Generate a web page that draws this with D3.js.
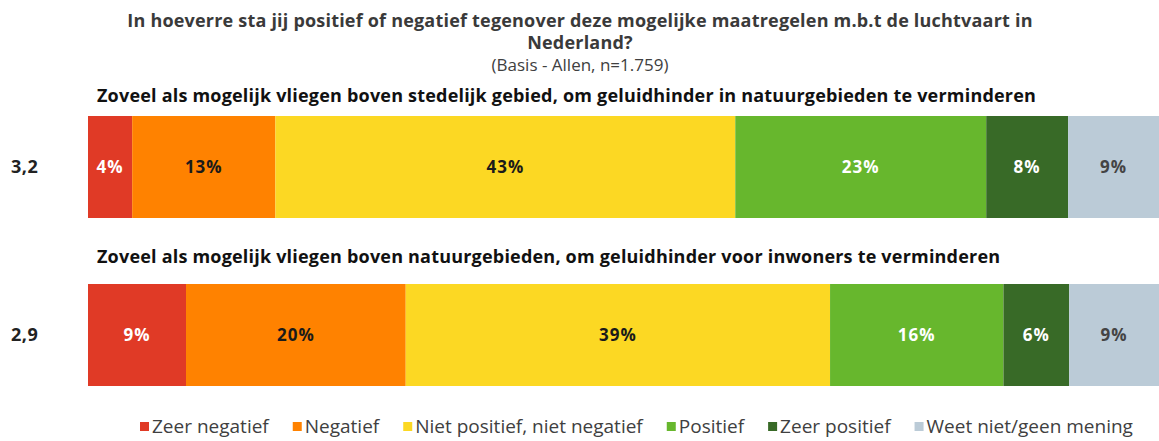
<!DOCTYPE html>
<html>
<head>
<meta charset="utf-8">
<script src="https://cdn.jsdelivr.net/npm/d3@7"></script>
<style>
  body { margin: 0; background: #fff; }
  svg text { font-family: "Open Sans", sans-serif; }
</style>
</head>
<body>
<div id="vis"></div>
<script>
// frame
const FRAME_WIDTH = 1159;
const FRAME_HEIGHT = 441;

// data
const categories = ["Zeer negatief", "Negatief", "Niet positief, niet negatief", "Positief", "Zeer positief", "Weet niet/geen mening"];
const colors = ["#e03a26", "#ff8200", "#fcd823", "#67b72d", "#386a27", "#bbcbd7"];
const labelColors = ["#fff", "#1a1a1a", "#1a1a1a", "#fff", "#fff", "#444"];
const questions = [
  "Zoveel als mogelijk vliegen boven stedelijk gebied, om geluidhinder in natuurgebieden te verminderen",
  "Zoveel als mogelijk vliegen boven natuurgebieden, om geluidhinder voor inwoners te verminderen"
];
const means = ["3,2", "2,9"];
const values1 = [4.1, 13.3, 42.7, 23.3, 7.6, 9.0];
const values2 = [9.1, 20.4, 39.4, 16.1, 6.1, 8.9];
const series = [values1, values2];

const titleLines = ["In hoeverre sta jij positief of negatief tegenover deze mogelijke maatregelen m.b.t de luchtvaart in", "Nederland?"];
const subtitle = "(Basis - Allen, n=1.759)";

const FRAME = d3.select("#vis").append("svg")
  .attr("width", FRAME_WIDTH)
  .attr("height", FRAME_HEIGHT);

// scales
const X_SCALE = d3.scaleLinear().domain([0, 100]).range([88, 1165]);
const ROW_Y = [116, 284];
const HEAD_Y = [102, 263];
const BAR_H = 102;

// title
FRAME.selectAll(".title")
  .data(titleLines)
  .enter()
  .append("text")
    .attr("x", 580)
    .attr("y", (d, i) => 27 + i * 22)
    .attr("text-anchor", "middle")
    .attr("font-size", "18px")
    .attr("font-weight", "bold")
    .attr("letter-spacing", "0.2px")
    .attr("fill", "#3a3a3a")
    .text(d => d);

FRAME.append("text")
  .attr("x", 580)
  .attr("y", 71)
  .attr("text-anchor", "middle")
  .attr("font-size", "17px")
  .attr("fill", "#404040")
  .text(subtitle);

// one group per question
const rows = FRAME.selectAll(".row")
  .data(series)
  .enter()
  .append("g")
    .attr("class", "row");

rows.append("text")
  .attr("x", 97)
  .attr("y", (d, i) => HEAD_Y[i])
  .attr("font-size", "18px")
  .attr("font-weight", "bold")
  .attr("letter-spacing", "0.2px")
  .attr("fill", "#111")
  .text((d, i) => questions[i]);

rows.append("text")
  .attr("x", 11)
  .attr("y", (d, i) => ROW_Y[i] + BAR_H / 2)
  .attr("dy", "0.35em")
  .attr("font-size", "18px")
  .attr("font-weight", "bold")
  .attr("letter-spacing", "0.5px")
  .attr("fill", "#222")
  .text((d, i) => means[i]);

// stacked segments
rows.each(function(vals, i) {
  let cum = 0;
  const segs = vals.map((v, k) => {
    const s = {start: cum, end: cum + v, v: v, k: k};
    cum += v;
    return s;
  });
  const g = d3.select(this);
  g.selectAll("rect")
    .data(segs)
    .enter()
    .append("rect")
      .attr("x", d => X_SCALE(d.start))
      .attr("y", ROW_Y[i])
      .attr("width", d => X_SCALE(d.end) - X_SCALE(d.start))
      .attr("height", BAR_H)
      .attr("fill", d => colors[d.k]);
  g.selectAll(".pct")
    .data(segs)
    .enter()
    .append("text")
      .attr("x", d => (X_SCALE(d.start) + Math.min(X_SCALE(d.end), FRAME_WIDTH)) / 2)
      .attr("y", ROW_Y[i] + BAR_H / 2)
      .attr("dy", "0.35em")
      .attr("text-anchor", "middle")
      .attr("font-size", "17px")
      .attr("font-weight", "bold")
      .attr("letter-spacing", "1px")
      .attr("fill", d => labelColors[d.k])
      .text(d => d3.format(".0f")(d.v) + "%");
});

// legend, laid out from measured text widths
const legend = FRAME.append("g").attr("transform", "translate(0,433)");
const items = legend.selectAll(".item")
  .data(categories)
  .enter()
  .append("g");
items.append("rect")
  .attr("width", 9).attr("height", 9)
  .attr("y", -11)
  .attr("fill", (d, i) => colors[i]);
items.append("text")
  .attr("x", 12)
  .attr("font-size", "19px")
  .attr("fill", "#404040")
  .text(d => d);

let lx = 140;
items.each(function() {
  d3.select(this).attr("transform", "translate(" + lx + ",0)");
  lx += 12 + d3.select(this).select("text").node().getComputedTextLength() + 24;
});
</script>
</body>
</html>
